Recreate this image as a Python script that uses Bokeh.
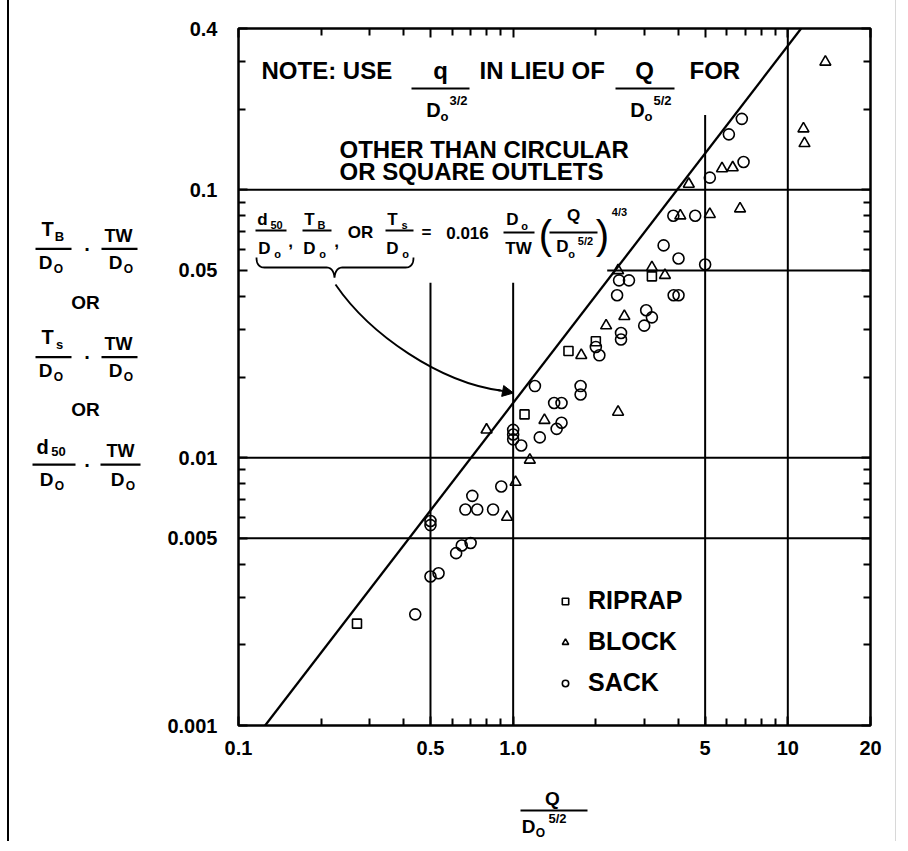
import numpy as np
from bokeh.plotting import figure
from bokeh.layouts import column, row
from bokeh.models import (FixedTicker, LogAxis, CustomJSTickFormatter, Label,
                          Arrow, NormalHead, Legend, LegendItem, Range1d)
from bokeh.embed import file_html
from bokeh.resources import INLINE

# ---------------- data ----------------
riprap_x = [0.27, 1.10, 1.59, 2.0, 3.2]
riprap_y = [0.0024, 0.0145, 0.025, 0.0272, 0.0475]

block_x = [0.80, 1.15, 1.30, 2.41, 1.02, 0.95, 1.77, 2.18, 2.54, 2.41, 3.2, 3.57,
           4.06, 5.2, 6.7, 4.36, 5.76, 6.3, 11.4, 11.5, 13.7]
block_y = [0.0127, 0.0098, 0.0138, 0.0148, 0.0081, 0.0060, 0.0241, 0.0311, 0.0337, 0.050, 0.0513, 0.048,
           0.080, 0.081, 0.085, 0.105, 0.120, 0.121, 0.169, 0.149, 0.30]

sack_x = [0.44, 0.50, 0.535, 0.62, 0.65, 0.70, 0.50, 0.50, 0.67, 0.74, 0.845, 0.71, 0.905,
          1.0, 1.0, 1.0, 1.07, 1.25, 1.44, 1.50, 1.41, 1.50, 1.20, 1.76, 1.76, 2.06, 2.0,
          2.47, 2.47, 3.0, 3.05, 3.2, 2.39, 3.84, 4.0, 2.43, 2.64, 3.53, 4.0, 5.0, 3.83, 4.6,
          5.2, 6.9, 6.1, 6.8]
sack_y = [0.0026, 0.0036, 0.0037, 0.0044, 0.0047, 0.0048, 0.0056, 0.0058, 0.0064, 0.0064, 0.0064, 0.0072, 0.0078,
          0.0127, 0.0122, 0.0117, 0.0111, 0.0119, 0.0128, 0.0135, 0.0160, 0.0160, 0.0185, 0.0185, 0.0172, 0.0241, 0.0259,
          0.0292, 0.0276, 0.0311, 0.0355, 0.0334, 0.0404, 0.0404, 0.0404, 0.0459, 0.0459, 0.062, 0.0554, 0.0526, 0.080, 0.080,
          0.111, 0.127, 0.161, 0.184]

# design line printed on the chart: y = 0.016 * x^(4/3)
fit_coef = 0.016
fit_exp = 4.0 / 3.0
fit_x = np.array([0.125, 11.18])
fit_y = fit_coef * fit_x ** fit_exp

# reference lines
vline_x = [0.5, 1.0, 5.0, 10.0]
vline_top = [0.045, 0.045, 0.19, 0.4]
hline_y = [0.1, 0.05, 0.01, 0.005]
hline_left = [0.1, 2.2, 0.1, 0.1]

x_ticks = [0.1, 0.5, 1.0, 5.0, 10.0, 20.0]
x_tick_labels = ["0.1", "0.5", "1.0", "5", "10", "20"]
x_minor = [0.2, 0.3, 0.4, 0.6, 0.7, 0.8, 0.9, 2, 3, 4, 6, 7, 8, 9]
y_ticks = [0.001, 0.005, 0.01, 0.05, 0.1, 0.4]
y_tick_labels = ["0.001", "0.005", "0.01", "0.05", "0.1", "0.4"]
y_minor = [0.002, 0.003, 0.004, 0.006, 0.007, 0.008, 0.009,
           0.02, 0.03, 0.04, 0.06, 0.07, 0.08, 0.09, 0.2, 0.3]

# ---------------- layout (page pixels) ----------------
FONT = "Liberation Sans"
OX = 9                        # left edge of content on the page
TH = 9                        # top strip height (carries the outer frame's top edge)
OY = TH                       # top of the main row on the page
TOTW = 886
LW = 150                      # left title panel width
MW = TOTW - LW                # main figure width
MH = 772                      # height of the main row
BH = 60                       # bottom title strip height
FL, FR, FT, FB = 238, 870, 28, 725   # plot frame edges
X0, X1 = 0.1, 20.0
Y0, Y1 = 0.001, 0.4
LX0, LX1 = np.log10(X0), np.log10(X1)
LY0, LY1 = np.log10(Y0), np.log10(Y1)


def DX(px):
    return 10 ** (LX0 + (np.asarray(px, dtype=float) - FL) / (FR - FL) * (LX1 - LX0))


def DY(py):
    return 10 ** (LY1 - (np.asarray(py, dtype=float) - FT) / (FB - FT) * (LY1 - LY0))


def plain_fig(w, h, x0, x1, ytop, ybot):
    f = figure(width=w, height=h, x_range=Range1d(x0, x1), y_range=Range1d(ybot, ytop),
               output_backend="svg", toolbar_location=None,
               x_axis_location=None, y_axis_location=None,
               min_border_left=0, min_border_right=0, min_border_top=0, min_border_bottom=0,
               background_fill_color="white", border_fill_color="white")
    f.xgrid.visible = False
    f.ygrid.visible = False
    f.outline_line_color = None
    return f


top_strip = plain_fig(TOTW, TH, OX, OX + TOTW, 0, TH)
top_strip.segment(x0=[OX - 1], y0=[7], x1=[OX + TOTW], y1=[7], line_color="black", line_width=2)
lp = plain_fig(LW, MH, OX, OX + LW, OY, OY + MH)
bp = plain_fig(TOTW, BH, OX, OX + TOTW, OY + MH, OY + MH + BH)

p = figure(width=MW, height=MH, x_axis_type="log", y_axis_type="log",
           x_range=Range1d(X0, X1), y_range=Range1d(Y0, Y1),
           output_backend="svg", toolbar_location=None,
           min_border_left=FL - (OX + LW), min_border_right=OX + TOTW - FR,
           min_border_top=FT - OY, min_border_bottom=OY + MH - FB,
           background_fill_color="white", border_fill_color="white")
p.xgrid.visible = False
p.ygrid.visible = False
p.outline_line_color = "black"
p.outline_line_width = 2.5


def lab_formatter(vals, labs):
    return CustomJSTickFormatter(args=dict(vals=vals, labs=labs), code="""
        for (let i = 0; i < vals.length; i++) {
            if (Math.abs(Math.log10(vals[i]) - Math.log10(tick)) < 1e-6) return labs[i];
        }
        return "";""")


def style_axis(ax, ticks, minor, fmt, standoff):
    ax.ticker = FixedTicker(ticks=ticks, minor_ticks=minor)
    ax.formatter = fmt
    ax.axis_line_color = None
    ax.major_tick_in = 9
    ax.major_tick_out = 0
    ax.minor_tick_in = 7
    ax.minor_tick_out = 0
    ax.major_tick_line_width = 2
    ax.minor_tick_line_width = 2
    ax.major_tick_line_color = "black"
    ax.minor_tick_line_color = "black"
    ax.major_label_standoff = standoff
    ax.major_label_text_font = FONT
    ax.major_label_text_font_size = "20px"
    ax.major_label_text_font_style = "bold"
    ax.major_label_text_color = "black"


style_axis(p.xaxis[0], x_ticks, x_minor, lab_formatter(x_ticks, x_tick_labels), 15)
style_axis(p.yaxis[0], y_ticks, y_minor, lab_formatter(y_ticks, y_tick_labels), 21)
top_ax = LogAxis()
style_axis(top_ax, x_ticks, x_minor, CustomJSTickFormatter(code='return "";'), 0)
p.add_layout(top_ax, "above")
right_ax = LogAxis()
style_axis(right_ax, y_ticks, y_minor, CustomJSTickFormatter(code='return "";'), 0)
p.add_layout(right_ax, "right")

# reference lines
p.segment(x0=vline_x, y0=[Y0] * len(vline_x), x1=vline_x, y1=vline_top, line_color="black", line_width=2)
p.segment(x0=hline_left, y0=hline_y, x1=[X1] * len(hline_y), y1=hline_y, line_color="black", line_width=2)

# design line
p.line(fit_x, fit_y, line_color="black", line_width=2.3)

# data
r_rip = p.scatter(riprap_x, riprap_y, marker="square", size=9, fill_color=None,
                  line_color="black", line_width=1.6)
r_blk = p.scatter(block_x, block_y, marker="triangle", size=11, fill_color=None,
                  line_color="black", line_width=1.6)
r_sack = p.scatter(sack_x, sack_y, marker="circle", size=11, fill_color=None,
                   line_color="black", line_width=1.6)

legend = Legend(items=[LegendItem(label="RIPRAP", renderers=[r_rip]),
                       LegendItem(label="BLOCK", renderers=[r_blk]),
                       LegendItem(label="SACK", renderers=[r_sack])],
                location=(319, 28), orientation="vertical",
                border_line_color=None, background_fill_alpha=0,
                label_text_font=FONT, label_text_font_size="25px", label_text_font_style="bold",
                label_text_color="black",
                glyph_width=16, glyph_height=26, label_height=26, spacing=12,
                padding=0, margin=0, label_standoff=15)
p.add_layout(legend)


# ---------------- annotation helpers ----------------
def txt(s, px, py, size, align="center", bold=True, fig=None):
    if fig is None:
        x, y, f = float(DX(px)), float(DY(py)), p
    else:
        x, y, f = float(px), float(py), fig
    f.add_layout(Label(x=x, y=y, text=s, text_font=FONT,
                       text_font_size=f"{size}px", text_font_style="bold" if bold else "normal",
                       text_align=align, text_baseline="middle", text_color="black"))


def bar(x0, x1, py, w=2.2, fig=None):
    if fig is None:
        p.segment(x0=[float(DX(x0))], y0=[float(DY(py))], x1=[float(DX(x1))], y1=[float(DY(py))],
                  line_color="black", line_width=w)
    else:
        fig.segment(x0=[x0], y0=[py], x1=[x1], y1=[py], line_color="black", line_width=w)


# note at the top
NS = 24
txt("NOTE:  USE", 261, 70, NS, align="left")
txt("q", 440, 70, NS)
bar(411, 469, 88)
txt("D", 433, 109, 20)
txt("o", 444, 116, 13)
txt("3/2", 458, 100, 13)
txt("IN LIEU OF", 479, 70, NS, align="left")
txt("Q", 644, 70, NS)
bar(615, 674, 88)
txt("D", 637, 109, 20)
txt("o", 648, 116, 13)
txt("5/2", 662, 100, 13)
txt("FOR", 689, 70, NS, align="left")
txt("OTHER THAN CIRCULAR", 339, 149, NS, align="left")
txt("OR SQUARE OUTLETS", 339, 171, NS, align="left")

# equation
ES = 17
txt("d", 262, 219, ES)
txt("50", 276, 224, 11)
bar(255, 286, 230, 1.8)
txt("D", 264, 248, ES)
txt("o", 277, 253, 11)
txt(",", 290, 240, ES)
txt("T", 309, 219, ES)
txt("B", 321, 224, 11)
bar(302, 331, 230, 1.8)
txt("D", 309, 248, ES)
txt("o", 322, 253, 11)
txt(",", 336, 240, ES)
txt("OR", 360, 232, ES)
txt("T", 392, 219, ES)
txt("s", 404, 224, 11)
bar(385, 413, 230, 1.8)
txt("D", 392, 248, ES)
txt("o", 405, 253, 11)
txt("=", 426, 232, ES)
txt("0.016", 467, 232, ES)
txt("D", 512, 219, ES)
txt("o", 524, 225, 11)
bar(503, 534, 232, 1.8)
txt("TW", 518, 248, ES)
txt("(", 545, 234, 40, bold=False)
txt("Q", 573, 215, ES)
bar(549, 597, 232, 1.8)
txt("D", 562, 246, ES)
txt("o", 571, 253, 11)
txt("5/2", 585, 240, 11)
txt(")", 602, 234, 40, bold=False)
txt("4/3", 619, 211, 11)


# brace under the three ratios
def quad(p0, c, p1, n=10):
    t = np.linspace(0, 1, n)
    x = (1 - t) ** 2 * p0[0] + 2 * (1 - t) * t * c[0] + t ** 2 * p1[0]
    y = (1 - t) ** 2 * p0[1] + 2 * (1 - t) * t * c[1] + t ** 2 * p1[1]
    return list(x), list(y)


bx, by = [], []
for seg in [((256, 257), (256, 267), (264, 267)), ((326, 267), (333, 267), (334, 277)),
            ((334, 277), (335, 267), (342, 267)), ((405, 267), (413, 267), (413, 257))]:
    sx, sy = quad(*seg)
    bx += sx
    by += sy
p.line(DX(bx), DY(by), line_color="black", line_width=1.8)

# curved pointer
p.bezier(x0=[float(DX(335))], y0=[float(DY(284))], x1=[float(DX(500))], y1=[float(DY(390))],
         cx0=[float(DX(370))], cy0=[float(DY(335))], cx1=[float(DX(440))], cy1=[float(DY(382))],
         line_color="black", line_width=1.9)
p.add_layout(Arrow(end=NormalHead(size=11, fill_color="black", line_color="black"),
                   x_start=float(DX(497)), y_start=float(DY(389.5)),
                   x_end=float(DX(513)), y_end=float(DY(392.5)),
                   line_color="black", line_width=1.9))

# y-axis title (left panel)
for (dy, num, sub) in [(0, "T", "B"), (120, "T", "s")]:
    txt(num, 47, 231 + dy, 20, fig=lp)
    txt(sub, 59, 239 + dy, 13, fig=lp)
    bar(35, 71, 253 + dy, fig=lp)
    txt("D", 45, 268 + dy, 19, fig=lp)
    txt("O", 58, 275 + dy, 12, fig=lp)
    txt("\u00b7", 87, 253 + dy, 20, fig=lp)
    txt("TW", 118, 239 + dy, 18, fig=lp)
    bar(101, 137, 253 + dy, fig=lp)
    txt("D", 115, 268 + dy, 19, fig=lp)
    txt("O", 128, 275 + dy, 12, fig=lp)
txt("OR", 85, 312, 19, fig=lp)
txt("OR", 85, 431, 19, fig=lp)
txt("d", 42, 472, 20, fig=lp)
txt("50", 58, 478, 13, fig=lp)
bar(32, 75, 492, fig=lp)
txt("D", 46, 509, 19, fig=lp)
txt("O", 59, 516, 12, fig=lp)
txt("\u00b7", 87, 492, 20, fig=lp)
txt("TW", 120, 477, 18, fig=lp)
bar(100, 140, 492, fig=lp)
txt("D", 117, 509, 19, fig=lp)
txt("O", 130, 516, 12, fig=lp)

# x-axis title
txt("Q", 552, 798, 19, fig=bp)
bar(520, 587, 810, fig=bp)
txt("D", 528, 826, 19, fig=bp)
txt("O", 540, 832, 12, fig=bp)
txt("5/2", 557, 818, 13, fig=bp)

left_border = plain_fig(2, TH + MH + BH, 0, 1, 0, 1)
left_border.background_fill_color = "black"
left_border.border_fill_color = "black"

layout = column(top_strip, row(lp, p), bp,
                styles={"margin-left": "7px",
                        "border-left": "2px solid black",
                        "border-right": "1px solid #d8d8d8"})

open("out.html", "w").write(file_html(layout, INLINE))
